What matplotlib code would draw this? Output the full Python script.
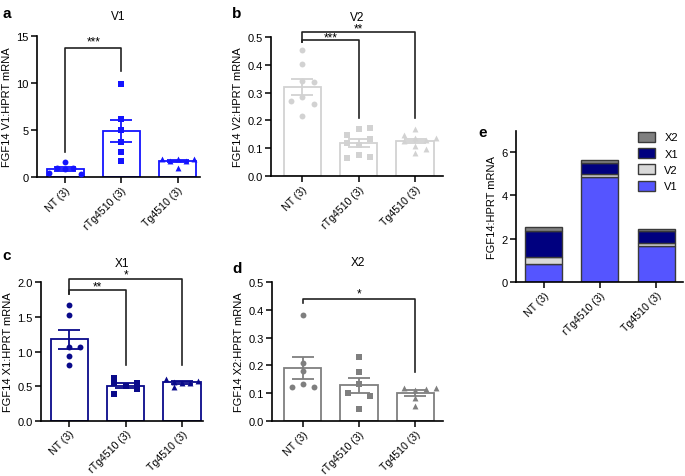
import matplotlib
matplotlib.use("Agg")
import matplotlib.pyplot as plt
import numpy as np
from matplotlib.patches import Patch

plt.rcParams['font.family'] = ['Liberation Sans', 'DejaVu Sans']
plt.rcParams['font.size'] = 8

groups = ["NT (3)", "rTg4510 (3)", "Tg4510 (3)"]
markers = ["o", "s", "^"]

# individual values
v1_nt = [0.45, 0.9, 1.6, 0.9, 0.85, 0.35]
v1_rtg = [9.9, 6.2, 5.0, 3.75, 2.7, 1.7]
v1_tg = [1.9, 1.7, 1.9, 1.0, 1.65, 1.9]

v2_nt = [0.454, 0.405, 0.342, 0.340, 0.283, 0.269, 0.261, 0.216]
v2_rtg = [0.172, 0.168, 0.148, 0.132, 0.117, 0.113, 0.076, 0.070, 0.066]
v2_tg = [0.168, 0.148, 0.138, 0.136, 0.126, 0.128, 0.108, 0.096, 0.084]

x1_nt = [1.67, 1.53, 1.06, 1.06, 0.93, 0.80]
x1_rtg = [0.61, 0.55, 0.50, 0.55, 0.46, 0.38]
x1_tg = [0.60, 0.56, 0.48, 0.55, 0.55, 0.58]

x2_nt = [0.382, 0.21, 0.18, 0.121, 0.133, 0.121]
x2_rtg = [0.229, 0.176, 0.133, 0.101, 0.091, 0.045]
x2_tg = [0.119, 0.113, 0.117, 0.119, 0.083, 0.053]

# horizontal spread of the points (scatter layout)
v1_dx = [[-0.28, -0.14, 0, 0.14, 0, 0.28], [0] * 6, [-0.27, -0.13, 0, 0, 0.15, 0.3]]
v2_dx = [[0, 0, 0, 0.2, 0, -0.2, 0.2, 0],
         [0.2, 0, -0.2, 0.2, -0.2, 0, 0, 0.2, -0.2],
         [0, -0.2, 0, 0.38, -0.2, 0.2, 0, 0.2, 0]]
x1_dx = [[0, 0, 0, 0.19, 0, 0], [-0.2, -0.2, 0, 0.2, 0.2, -0.2], [-0.28, -0.14, -0.14, 0, 0.14, 0.28]]
x2_dx = [[0, 0, 0, -0.2, 0, 0.2], [0, 0, 0, -0.2, 0.2, 0], [-0.2, 0, 0.2, 0.38, 0, 0]]

c_v1, c_v2, c_x1, c_x2 = "#1414ff", "#d2d2d2", "#0a0a8a", "#7f7f7f"


def panel(ax, data, dx, color, ylim, yticks, ylabel, title, xlim):
    x = np.arange(3)
    means = [np.mean(d) for d in data]
    sems = [np.std(d, ddof=1) / np.sqrt(len(d)) for d in data]
    ax.bar(x, means, width=0.66, facecolor="white", edgecolor=color, linewidth=1.3, zorder=1)
    ax.errorbar(x, means, yerr=sems, fmt="none", ecolor=color, elinewidth=1.3,
                capsize=8, capthick=1.3, zorder=3)
    for i in range(3):
        ax.scatter(i + np.array(dx[i]), data[i], marker=markers[i], s=18, color=color,
                   linewidths=0, zorder=4)
    style(ax, ylim, yticks, ylabel, xlim)
    ax.set_title(title, fontsize=8.5, pad=12)


def style(ax, ylim, yticks, ylabel, xlim):
    ax.set_xlim(*xlim)
    ax.set_ylim(*ylim)
    ax.set_yticks(yticks)
    ax.set_xticks(range(3))
    ax.set_xticklabels(groups, rotation=45, ha="right", rotation_mode="anchor", fontsize=7.6)
    ax.set_ylabel(ylabel, labelpad=3)
    for s in ["top", "right"]:
        ax.spines[s].set_visible(False)
    for s in ["left", "bottom"]:
        ax.spines[s].set_linewidth(1.2)
    ax.tick_params(length=4, width=1.1, pad=2)
    ax.tick_params(axis="x", pad=1.5)


def bracket(ax, x1, x2, y, y1, y2, text, ty):
    ax.plot([x1, x1, x2, x2], [y1, y, y, y2], color="#222222", lw=1.2, clip_on=False, zorder=5)
    ax.text((x1 + x2) / 2, ty, text, ha="center", va="center", fontsize=8.5, clip_on=False)


fig = plt.figure(figsize=(6.85, 4.77), dpi=100)

ax_a = fig.add_axes([0.054, 0.627, 0.238, 0.296])
panel(ax_a, [v1_nt, v1_rtg, v1_tg], v1_dx, c_v1, (0, 15), [0, 5, 10, 15],
      "FGF14 V1:HPRT mRNA", "V1", (-0.5, 2.4))
bracket(ax_a, 0, 1, 13.7, 2.7, 11.2, "***", 14.4)

ax_b = fig.add_axes([0.396, 0.629, 0.251, 0.291])
panel(ax_b, [v2_nt, v2_rtg, v2_tg], v2_dx, c_v2, (0, 0.5), [0, 0.1, 0.2, 0.3, 0.4, 0.5],
      "FGF14 V2:HPRT mRNA", "V2", (-0.55, 2.5))
ax_b.yaxis.set_major_formatter(matplotlib.ticker.FormatStrFormatter("%.1f"))
bracket(ax_b, 0, 1, 0.488, 0.484, 0.208, "***", 0.498)
bracket(ax_b, 0, 2, 0.518, 0.484, 0.208, "**", 0.53)

ax_c = fig.add_axes([0.060, 0.116, 0.236, 0.290])
panel(ax_c, [x1_nt, x1_rtg, x1_tg], x1_dx, c_x1, (0, 2.0), [0, 0.5, 1.0, 1.5, 2.0],
      "FGF14 X1:HPRT mRNA", "X1", (-0.5, 2.37))
ax_c.yaxis.set_major_formatter(matplotlib.ticker.FormatStrFormatter("%.1f"))
bracket(ax_c, 0, 1, 1.885, 1.83, 0.81, "**", 1.94)
bracket(ax_c, 0, 2, 2.05, 1.83, 0.81, "*", 2.11)

ax_d = fig.add_axes([0.397, 0.115, 0.250, 0.292])
panel(ax_d, [x2_nt, x2_rtg, x2_tg], x2_dx, c_x2, (0, 0.5), [0, 0.1, 0.2, 0.3, 0.4, 0.5],
      "FGF14 X2:HPRT mRNA", "X2", (-0.55, 2.5))
ax_d.yaxis.set_major_formatter(matplotlib.ticker.FormatStrFormatter("%.1f"))
bracket(ax_d, 0, 2, 0.439, 0.425, 0.178, "*", 0.46)

# panel e: stacked group means
ax_e = fig.add_axes([0.753, 0.407, 0.244, 0.317])
stack = [("V1", [v1_nt, v1_rtg, v1_tg], "#5555ff"),
         ("V2", [v2_nt, v2_rtg, v2_tg], "#d9d9d9"),
         ("X1", [x1_nt, x1_rtg, x1_tg], "#00007f"),
         ("X2", [x2_nt, x2_rtg, x2_tg], "#808080")]
bottom = np.zeros(3)
handles = []
for name, sets, col in stack:
    m = np.array([np.mean(d) for d in sets])
    ax_e.bar(np.arange(3), m, bottom=bottom, width=0.66, color=col, edgecolor="#3a3a3a", linewidth=1.0)
    bottom += m
    handles.append(Patch(facecolor=col, edgecolor="#3a3a3a", label=name))
style(ax_e, (0, 7), [0, 2, 4, 6], "FGF14:HPRT mRNA", (-0.5, 2.48))
ax_e.legend(handles=handles[::-1], loc="upper right", frameon=False, fontsize=8,
            handlelength=1.6, handleheight=1.0, bbox_to_anchor=(1.03, 1.06), labelspacing=0.5)

for letter, x, y in [("a", 0.003, 0.985), ("b", 0.339, 0.985), ("c", 0.003, 0.478),
                     ("d", 0.339, 0.45), ("e", 0.698, 0.735)]:
    fig.text(x, y, letter, fontsize=11, fontweight="bold", va="top")

fig.savefig("out.png", dpi=100)
